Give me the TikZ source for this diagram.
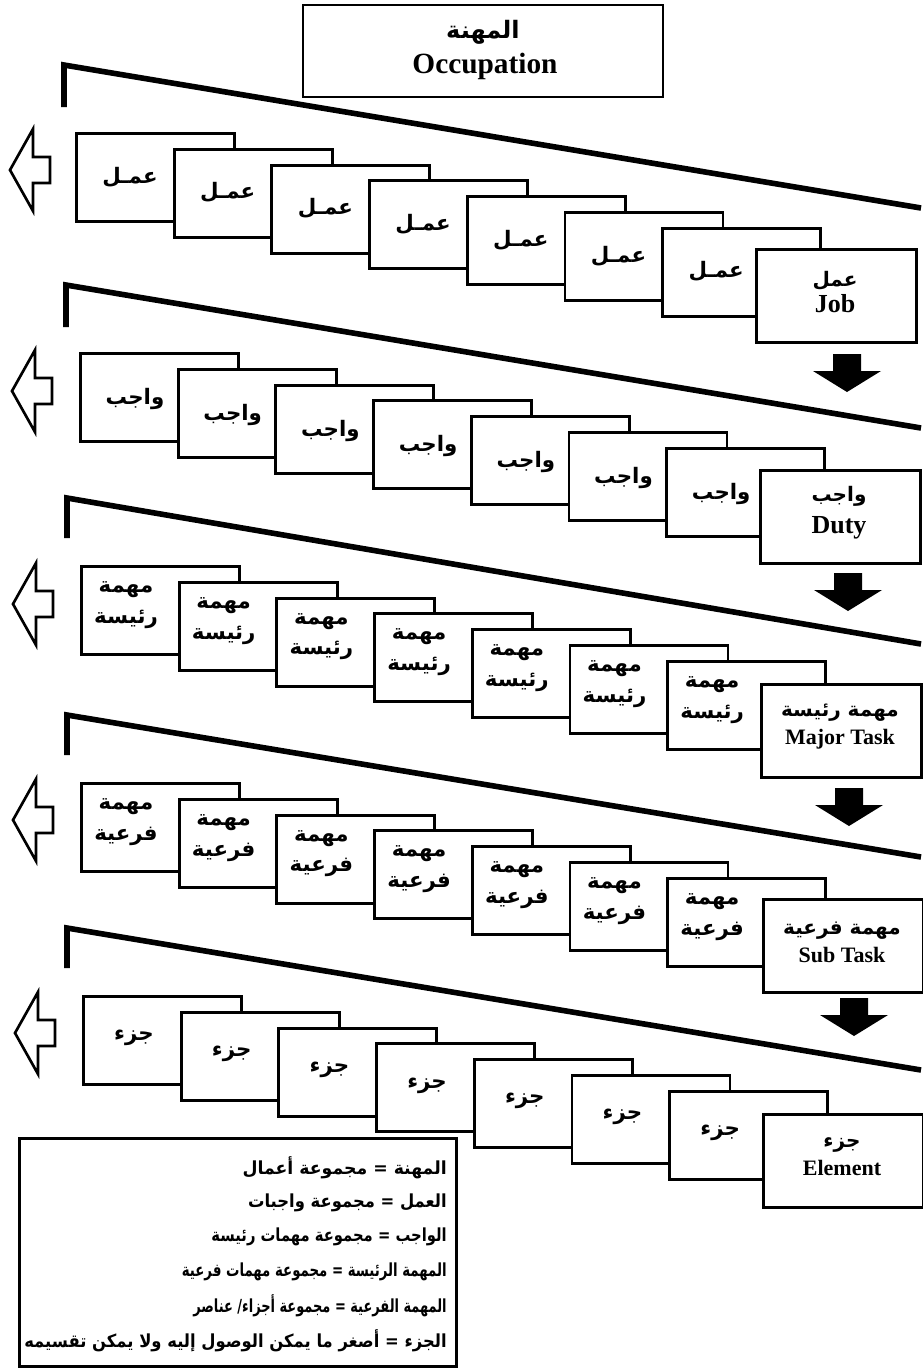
\documentclass[tikz,border=0pt]{standalone}
\usepackage{fontspec}
\usepackage{graphicx}
\setmainfont{Liberation Serif}
\newfontfamily\arabicfont[Script=Arabic]{DejaVu Sans}
\TeXXeTstate=1
\usetikzlibrary{calc}

% Arabic run, bold, right to left
\newcommand{\ar}[1]{{\arabicfont\bfseries\beginR #1\endR}}

\tikzset{
  card/.style={draw, fill=white, line width=2.2pt, anchor=north west,
    minimum width=118.5pt, minimum height=66pt, inner sep=0pt},
  lastcard/.style={card, minimum width=120pt, minimum height=70pt},
  cardtext/.style={inner sep=0pt, align=center, font=\fontsize{16}{23}\selectfont},
  lasttext/.style={inner sep=0pt, align=center, font=\fontsize{15}{21}\selectfont\bfseries},
  rail/.style={line width=4.2pt, line join=miter},
  backarrowstyle/.style={draw, fill=white, line width=2pt, line join=miter},
  downarrowstyle/.style={fill=black},
  legendtext/.style={inner sep=0pt, anchor=east, font=\fontsize{13.5}{16}\selectfont\arabicfont\bfseries},
}

% One tier: id, first left, first top, label dx, label dy, label,
% last-card left, last-card top, last-card text
\newcommand{\tier}[9]{%
  \foreach \k in {0,...,6}{%
    \pgfmathsetmacro{\bx}{#2+97.7*\k}%
    \pgfmathsetmacro{\by}{#3+15.8*\k}%
    \node[card] (#1b\k) at (\bx,\by) {};
    \node[cardtext] (#1t\k) at (\bx+#4,\by+#5) {#6};
  }
  \node[lastcard] (#1b7) at (#7,#8) {};
  \node[lasttext] (#1t7) at (#7+80,#8+44) {#9};
}

% hollow arrow pointing left: tip x, centre y
\newcommand{\leftarrowshape}[2]{%
  \draw[backarrowstyle] (#1,#2) -- (#1+23,#2-41) -- (#1+23,#2-13) -- (#1+40,#2-13)
    -- (#1+40,#2+13) -- (#1+23,#2+13) -- (#1+23,#2+41) -- cycle;
}
% solid arrow pointing down: centre x, top y
\newcommand{\downarrowshape}[2]{%
  \fill[downarrowstyle] (#1-14,#2) -- (#1+14,#2) -- (#1+14,#2+17) -- (#1+34,#2+17)
    -- (#1,#2+38) -- (#1-34,#2+17) -- (#1-14,#2+17) -- cycle;
}

\begin{document}
\begin{tikzpicture}[x=0.75pt,y=-0.75pt]
\useasboundingbox (0,0) rectangle (923,1372);

% heading box
\node[draw, line width=2.2pt, minimum width=270pt, minimum height=69pt, inner sep=0pt]
  (occ) at (483,51) {};
\node[inner sep=0pt, font=\fontsize{18}{20}\selectfont] (occAr) at (483,32) {\ar{المهنة}};
\node[inner sep=0pt, font=\fontsize{22}{24}\selectfont\bfseries] (occEn) at (485,66) {Occupation};

% tier rails
\draw[rail] (64,107) -- (64,65) -- (921,208);
\draw[rail] (66,327) -- (66,285) -- (921,428);
\draw[rail] (67,538) -- (67,498) -- (921,644);
\draw[rail] (67,755) -- (67,715) -- (921,857);
\draw[rail] (67,968) -- (67,928) -- (921,1070);

% side arrows
\leftarrowshape{10}{170}
\leftarrowshape{12}{391}
\leftarrowshape{13}{604}
\leftarrowshape{13}{820}
\leftarrowshape{15}{1033}

\downarrowshape{847}{354}
\downarrowshape{848}{573}
\downarrowshape{849}{788}
\downarrowshape{854}{998}

% tiers of cards
\tier{a}{75}{132}{55}{45}{\ar{عمـل}}{755}{248}%
  {\ar{عمل}\\[-2pt]{\fontsize{19.5}{21}\selectfont Job}}
\tier{b}{79}{352}{56}{47}{\ar{واجب}}{759}{469}%
  {\ar{واجب}\\[3pt]{\fontsize{19.5}{21}\selectfont Duty}}
\tier{c}{80}{565}{46}{40}{\ar{مهمة}\\\ar{رئيسة}}{760}{683}%
  {\ar{مهمة رئيسة}\\{\fontsize{16.5}{20}\selectfont Major Task}}
\tier{d}{80}{782}{46}{40}{\ar{مهمة}\\\ar{فرعية}}{762}{898}%
  {\ar{مهمة فرعية}\\{\fontsize{16.5}{20}\selectfont Sub Task}}
\tier{e}{82}{995}{52}{43}{\ar{جزء}}{762}{1113}%
  {\ar{جزء}\\{\fontsize{16.5}{20}\selectfont Element}}

% definitions
\node[draw, fill=white, line width=2.2pt, anchor=north west, minimum width=327.75pt,
  minimum height=171pt, inner sep=0pt] (legend) at (18,1137) {};
\node[legendtext] (def1) at (447,1168)
  {\scalebox{0.96}[1]{\beginR المهنة = مجموعة أعمال\endR}};
\node[legendtext] (def2) at (447,1202.5)
  {\scalebox{0.91}[1]{\beginR العمل = مجموعة واجبات\endR}};
\node[legendtext] (def3) at (447,1237)
  {\scalebox{0.82}[1]{\beginR الواجب = مجموعة مهمات رئيسة\endR}};
\node[legendtext] (def4) at (447,1271.5)
  {\scalebox{0.74}[1]{\beginR المهمة الرئيسة = مجموعة مهمات فرعية\endR}};
\node[legendtext] (def5) at (447,1306)
  {\scalebox{0.72}[1]{\beginR المهمة الفرعية = مجموعة أجزاء/ عناصر\endR}};
\node[legendtext] (def6) at (447,1340.5)
  {\scalebox{0.91}[1]{\beginR الجزء = أصغر ما يمكن الوصول إليه ولا يمكن تقسيمه\endR}};
\end{tikzpicture}
\end{document}
